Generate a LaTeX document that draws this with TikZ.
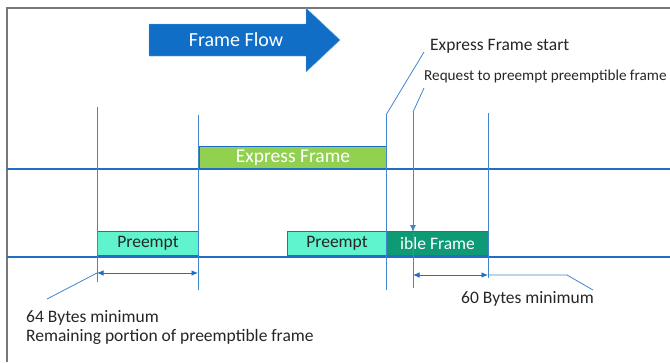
\documentclass[tikz,border=0pt]{standalone}
\usepackage{fontspec}
\setmainfont{Carlito}
\usetikzlibrary{arrows.meta}

\definecolor{lineblue}{RGB}{31,111,198}
\definecolor{flowblue}{RGB}{16,110,198}
\definecolor{expgreen}{RGB}{146,208,80}
\definecolor{preaqua}{RGB}{96,244,206}
\definecolor{ibleteal}{RGB}{14,154,116}
\definecolor{framegray}{RGB}{120,120,120}
\definecolor{txtgray}{RGB}{38,38,38}

\tikzset{
  wire/.style={lineblue, line width=2.2pt},
  tick/.style={lineblue!85, line width=0.8pt},
  fbox/.style={draw=lineblue, line width=1pt, minimum height=24pt, inner sep=0pt,
    anchor=south west, font=\fontsize{17.5}{20}\selectfont},
  lbl/.style={text=txtgray, inner sep=0pt, anchor=west, font=\fontsize{17.5}{20}\selectfont},
  dimline/.style={lineblue, line width=0.9pt, {Latex[length=6.5pt,width=5.5pt]}-{Latex[length=6.5pt,width=5.5pt]}},
}

\begin{document}
\begin{tikzpicture}[x=1pt,y=-1pt]
    \useasboundingbox (0,0) rectangle (670,362);
    \draw[framegray, line width=2pt] (7,362) -- (7,8) -- (670,8);

    % frame flow arrow
    \draw[fill=flowblue, draw=flowblue!60] (149,24) -- (306,24) -- (306,8) -- (340,40) -- (306,72) -- (306,56) -- (149,56) -- cycle;
    \node[text=white, font=\fontsize{20}{24}\selectfont] (flow) at (236,40) {Frame Flow};

    % express link and preemptible link
    \coordinate (expA) at (7,169);   \coordinate (expB) at (670,169);
    \coordinate (preA) at (7,257);   \coordinate (preB) at (670,257);
    \draw[wire] (expA) -- (expB);
    \draw[wire] (preA) -- (preB);

    \node[fbox, fill=expgreen, text=white, minimum width=187pt, minimum height=22pt,
      font=\fontsize{19.5}{22}\selectfont] (express) at (199,169) {Express Frame};
    \node[fbox, fill=preaqua, text=txtgray, minimum width=101pt] (pre1) at (97,256) {Preempt};
    \node[fbox, fill=preaqua, text=txtgray, minimum width=99pt] (pre2) at (287,256) {Preempt};
    \node[fbox, fill=ibleteal, text=white, minimum width=102pt] (ible) at (386,256) {ible Frame};

    % markers
    \coordinate (m1t) at (97,107);  \coordinate (m1b) at (97,282);
    \coordinate (m2t) at (198,115); \coordinate (m2b) at (198,290);
    \coordinate (m3t) at (386,115); \coordinate (m3b) at (386,290);
    \coordinate (m4t) at (413,112); \coordinate (m4m) at (413,232); \coordinate (m4b) at (413,288);
    \coordinate (m5t) at (488,113); \coordinate (m5b) at (488,278);
    \draw[tick] (m1t) -- (m1b);
    \draw[tick] (m2t) -- (m2b);
    \draw[tick] (m3t) -- (m3b);
    \draw[tick, -{Latex[length=7pt,width=6pt]}] (m4t) -- (m4m);
    \draw[tick] (m4m) -- (m4b);
    \draw[tick] (m5t) -- (m5b);

    % callouts
    \node[lbl] (estart) at (430,46) {Express Frame start};
    \node[lbl, font=\fontsize{15.2}{18}\selectfont] (req) at (424,76) {Request to preempt preemptible frame};
    \coordinate (estartL) at (424,52);
    \coordinate (reqL) at (424,88);
    \draw[tick] (m3t) -- (estartL);
    \draw[tick] (m4t) -- (reqL);

    % 64 bytes
    \coordinate (d1a) at (97,273); \coordinate (d1b) at (198,273);
    \coordinate (d1c) at (47,299);
    \draw[dimline] (d1a) -- (d1b);
    \draw[tick] (d1a) -- (d1c);
    \node[lbl] (min64) at (26,318) {64 Bytes minimum};
    \node[lbl] (remain) at (26,337) {Remaining portion of preemptible frame};

    % 60 bytes
    \coordinate (d2a) at (413,275); \coordinate (d2b) at (488,275);
    \coordinate (d2c) at (567,275); \coordinate (d2d) at (593,290);
    \draw[dimline] (d2a) -- (d2b);
    \draw[tick] (d2b) -- (d2c) -- (d2d);
    \node[lbl] (min60) at (461,299) {60 Bytes minimum};
\end{tikzpicture}
\end{document}
